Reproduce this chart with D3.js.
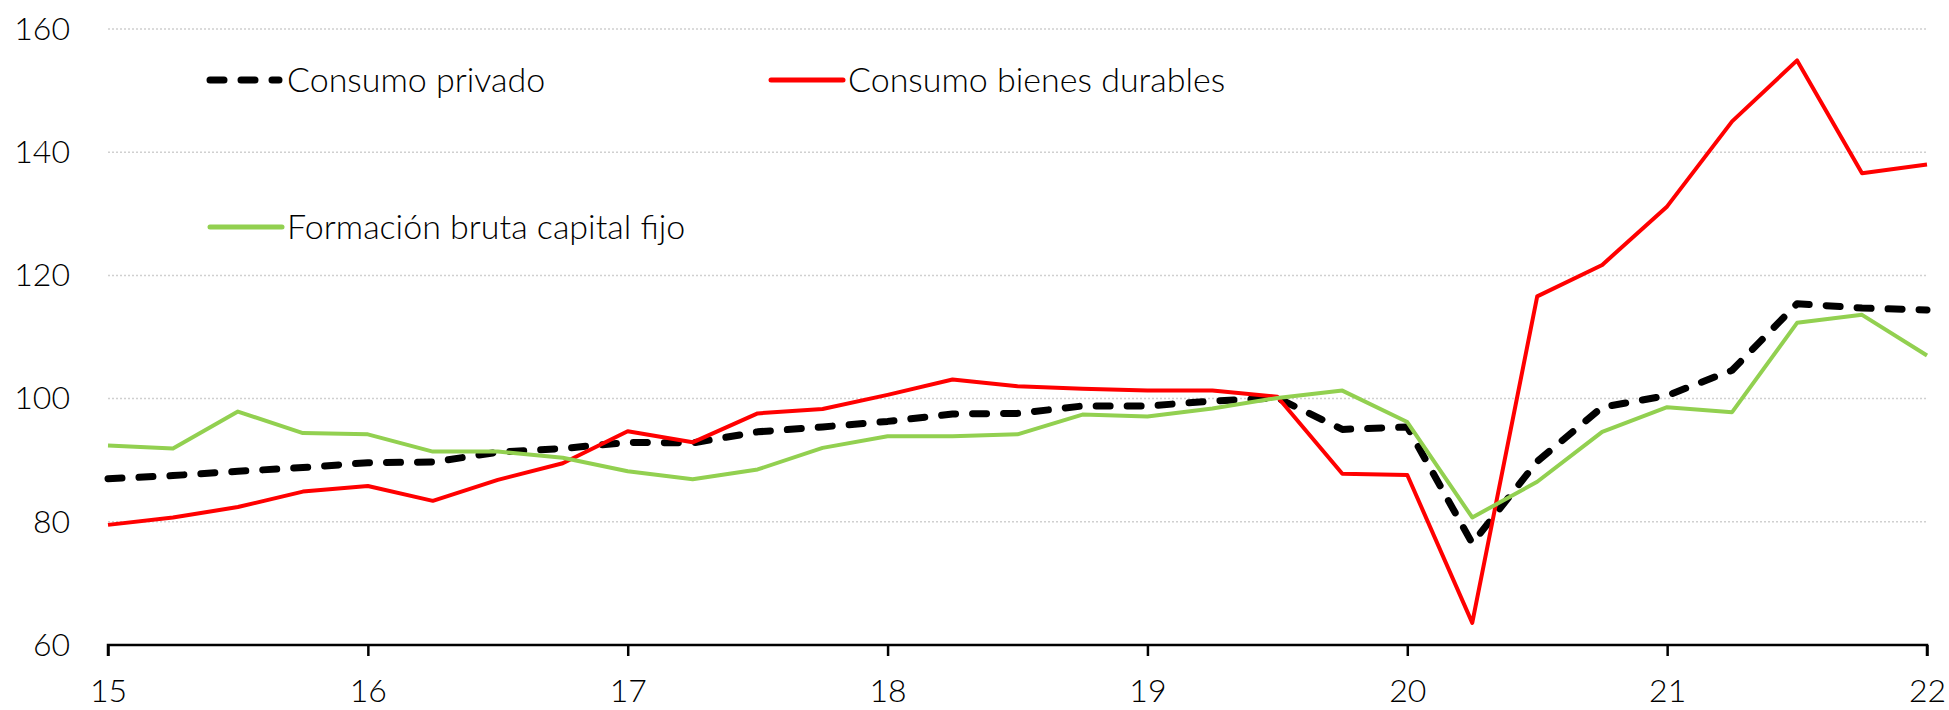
<!DOCTYPE html>
<html>
<head>
<meta charset="utf-8">
<script src="https://cdn.jsdelivr.net/npm/d3@7"></script>
<style>
  html, body { margin: 0; padding: 0; background: #fff; }
  svg { display: block; }
  text { font-family: Lato, "Open Sans", sans-serif; fill: #000; }
</style>
</head>
<body>
<svg id="chart" width="1949" height="710"></svg>
<script>
// ---- Data ----
const periods = [15, 15.25, 15.5, 15.75, 16, 16.25, 16.5, 16.75, 17, 17.25, 17.5, 17.75,
  18, 18.25, 18.5, 18.75, 19, 19.25, 19.5, 19.75, 20, 20.25, 20.5, 20.75, 21, 21.25, 21.5, 21.75, 22];
const consumoPrivado = [87.0, 87.5, 88.2, 88.8, 89.6, 89.7, 91.3, 91.9, 92.9, 92.8, 94.6, 95.4,
  96.3, 97.5, 97.6, 98.8, 98.8, 99.6, 100.1, 95.0, 95.4, 76.5, 89.8, 98.6, 100.5, 104.6, 115.4, 114.7, 114.4];
const consumoDurables = [79.5, 80.7, 82.4, 84.9, 85.8, 83.4, 86.8, 89.5, 94.7, 92.9, 97.6, 98.3,
  100.6, 103.1, 102.0, 101.6, 101.3, 101.3, 100.3, 87.8, 87.6, 63.6, 116.6, 121.7, 131.2, 145.0, 154.9, 136.6, 138.0];
const formacionBruta = [92.4, 91.9, 97.9, 94.4, 94.2, 91.4, 91.4, 90.4, 88.2, 86.9, 88.5, 92.0,
  93.9, 93.9, 94.2, 97.4, 97.1, 98.4, 100.1, 101.3, 96.2, 80.7, 86.5, 94.6, 98.6, 97.8, 112.3, 113.6, 107.0];
const xTicks = [15, 16, 17, 18, 19, 20, 21, 22];
const yTicks = [60, 80, 100, 120, 140, 160];
const seriesNames = ["Consumo privado", "Consumo bienes durables", "Formación bruta capital fijo"];

// ---- Layout ----
const svg = d3.select("#chart");
const x = d3.scaleLinear().domain([15, 22]).range([108, 1927]);
const y = d3.scaleLinear().domain([60, 160]).range([645, 29]);

const series = [
  { name: seriesNames[0], values: consumoPrivado, color: "#000000", width: 7, dash: "14,17", cap: "round" },
  { name: seriesNames[1], values: consumoDurables, color: "#ff0000", width: 4, dash: null, cap: "butt" },
  { name: seriesNames[2], values: formacionBruta, color: "#92d050", width: 4, dash: null, cap: "butt" }
];

// Gridlines
svg.append("g")
  .selectAll("line")
  .data(yTicks.filter(d => d > 60))
  .join("line")
  .attr("x1", x(15)).attr("x2", x(22))
  .attr("y1", d => y(d)).attr("y2", d => y(d))
  .attr("stroke", "#d0d0d0")
  .attr("stroke-width", 1.5)
  .attr("stroke-dasharray", "2,2");

// Y axis labels
const yAxis = d3.axisLeft(y).tickValues(yTicks).tickSize(0).tickPadding(0).tickFormat(d3.format("d"));
const gy = svg.append("g").attr("transform", `translate(70,0)`).call(yAxis);
gy.select(".domain").remove();
gy.selectAll("text").attr("font-size", 32).attr("font-family", "Lato, sans-serif").attr("font-weight", 300).attr("fill", "#000");

// X axis
const xAxis = d3.axisBottom(x).tickValues(xTicks).tickSize(11).tickPadding(23).tickFormat(d3.format("d"));
const gx = svg.append("g").attr("transform", `translate(0,${y(60)})`).call(xAxis);
gx.select(".domain").attr("stroke", "#000").attr("stroke-width", 2.5)
  .attr("d", `M${x(15)},11V0H${x(22)}V11`);
gx.selectAll(".tick line").attr("stroke", "#000").attr("stroke-width", 2.5);
gx.selectAll("text").attr("font-size", 32).attr("font-family", "Lato, sans-serif").attr("font-weight", 300).attr("fill", "#000");

// Lines
const line = d3.line().x((d, i) => x(periods[i])).y(d => y(d));
svg.append("g")
  .selectAll("path")
  .data(series)
  .join("path")
  .attr("d", d => line(d.values))
  .attr("fill", "none")
  .attr("stroke", d => d.color)
  .attr("stroke-width", d => d.width)
  .attr("stroke-dasharray", d => d.dash)
  .attr("stroke-linecap", d => d.cap)
  .attr("stroke-linejoin", "round");

// Legend
const legendPos = [
  { x: 210, y: 80 },
  { x: 771, y: 80 },
  { x: 210, y: 227 }
];
const lg = svg.append("g").selectAll("g").data(series).join("g")
  .attr("transform", (d, i) => `translate(${legendPos[i].x},${legendPos[i].y})`);
lg.append("line")
  .attr("x1", 0).attr("x2", d => d.dash ? 69 : 72)
  .attr("y1", 0).attr("y2", 0)
  .attr("stroke", d => d.color)
  .attr("stroke-width", d => d.dash ? 7 : 5)
  .attr("stroke-dasharray", d => d.dash)
  .attr("stroke-linecap", "round");
lg.append("text")
  .attr("x", 77)
  .attr("y", 0)
  .attr("dy", "0.35em")
  .attr("font-size", 34)
  .attr("font-weight", 300)
  .text(d => d.name);
</script>
</body>
</html>
